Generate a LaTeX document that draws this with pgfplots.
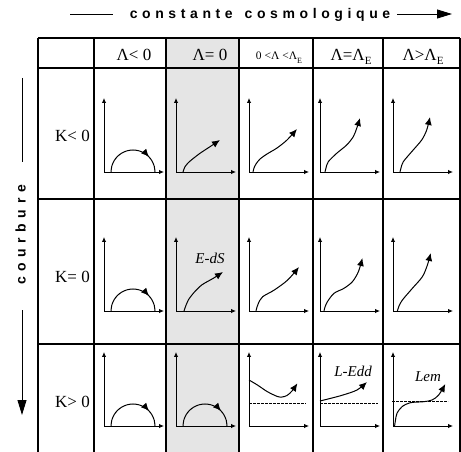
\documentclass[border=0pt]{standalone}
\usepackage{fontspec}
\setmainfont{Liberation Serif}
\newfontfamily\titlefont{Liberation Sans}
\usepackage{pgfplots}
\pgfplotsset{compat=1.18}
\usetikzlibrary{arrows.meta,decorations.markings}
\definecolor{cellgray}{RGB}{229,229,229}
\newcommand\sub[2]{\raisebox{-3.5pt}{\fontsize{#2}{#2}\selectfont #1}}
\newcommand\K{\kern4.6pt}
\newcommand\KK{\kern5.6pt}
\pgfplotsset{
 mini/.style={scale only axis, width=60pt, height=74pt, xmin=0, xmax=60, ymin=0, ymax=74,
   enlargelimits=false, axis x line=bottom, axis y line=left, xtick=\empty, ytick=\empty,
   clip=false, anchor=south west,
   axis line style={line width=0.9pt},
   every outer x axis line/.append style={-{Latex[length=5pt,width=4.5pt]}},
   every outer y axis line/.append style={-{Latex[length=5pt,width=4.5pt]}}},
 curve/.style={black, line width=1pt, smooth, -{Latex[length=8pt,width=7pt]}},
 arc/.style={black, line width=1pt, smooth, postaction={decorate},
   decoration={markings, mark=at position 0.76 with {\arrow{Latex[length=8pt,width=7pt]}}}},
 dash/.style={black, line width=0.7pt, dash pattern=on 2.5pt off 1.5pt}
}
\begin{document}
\begin{tikzpicture}
\useasboundingbox (0pt,0pt) rectangle (461pt,-452pt);
\begin{scope}[x=1pt,y=-1pt]
 \fill[cellgray] (166,38) rectangle (239,452);
 \foreach \yy in {38,68,199,344} {\draw[line width=1.3pt] (38,\yy) -- (460,\yy);}
 \foreach \xx in {38,94,166,239,313,383,460} {\draw[line width=1.3pt] (\xx,38) -- (\xx,452);}
 % titles
 \draw[line width=0.9pt] (70,14) -- (113,14);
 \node[anchor=base, inner sep=0pt, font=\titlefont\bfseries\fontsize{14}{14}\selectfont] at (260,18.5)
   {c\K o\K n\K s\K t\K a\K n\K t\K e\kern12pt c\K o\K s\K m\K o\K l\K o\K g\K i\K q\K u\K e};
 \draw[line width=0.9pt, -{Triangle[length=15pt,width=9pt]}] (397,14) -- (452,14);
 \draw[line width=0.9pt] (22,78) -- (22,162);
 \node[anchor=base, rotate=90, inner sep=0pt, font=\titlefont\bfseries\fontsize{14}{14}\selectfont] at (25.6,235)
   {c\KK o\KK u\KK r\KK b\KK u\KK r\KK e};
 \draw[line width=0.9pt, -{Triangle[length=15pt,width=9pt]}] (22,310) -- (22,415);
 % headers
 \node[anchor=base, inner sep=0pt, font=\fontsize{17}{17}\selectfont] at (134,61) {Λ< 0};
 \node[anchor=base, inner sep=0pt, font=\fontsize{17}{17}\selectfont] at (210,61) {Λ= 0};
 \node[anchor=base, inner sep=0pt, font=\fontsize{11.5}{11.5}\selectfont] at (279,60) {0 <Λ <Λ\sub{E}{8}};
 \node[anchor=base, inner sep=0pt, font=\fontsize{17}{17}\selectfont] at (351,61) {Λ=Λ\sub{E}{11}};
 \node[anchor=base, inner sep=0pt, font=\fontsize{17}{17}\selectfont] at (423,61) {Λ>Λ\sub{E}{11}};
 % row labels
 \node[anchor=base east, inner sep=0pt, font=\fontsize{17}{17}\selectfont] at (90,142) {K< 0};
 \node[anchor=base east, inner sep=0pt, font=\fontsize{17}{17}\selectfont] at (90,282) {K= 0};
 \node[anchor=base east, inner sep=0pt, font=\fontsize{17}{17}\selectfont] at (90,407) {K> 0};
 % curve labels
 \node[font=\itshape\fontsize{15}{15}\selectfont, inner sep=0pt] at (210,258) {E-dS};
 \node[font=\itshape\fontsize{15}{15}\selectfont, inner sep=0pt] at (353,371) {L-Edd};
 \node[font=\itshape\fontsize{15}{15}\selectfont, inner sep=0pt] at (428,377) {Lem};
\end{scope}

% ---------- Row 1 : K < 0 ----------
\begin{axis}[mini, at={(104pt,-172pt)}]
\addplot[arc] coordinates {(7,0) (7.75,5.69) (9.95,11) (13.44,15.56) (18,19.05) (23.31,21.25) (29,22) (34.69,21.25) (40,19.05) (44.56,15.56) (48.05,11) (50.25,5.69) (51,0)};
\end{axis}
\begin{axis}[mini, at={(176pt,-172pt)}]
\addplot[curve] coordinates {(7,0) (8,3) (9,5.3) (12,9) (15.7,12.3) (24,18.7) (34,25.3) (44,32)};
\end{axis}
\begin{axis}[mini, at={(249pt,-172pt)}]
\addplot[curve] coordinates {(4,0) (5,4) (7,8) (11,13) (18,18) (28,24) (38,32) (48,43)};
\end{axis}
\begin{axis}[mini, at={(320pt,-172pt)}]
\addplot[curve] coordinates {(5,0) (6,4) (8.3,10.3) (16.7,18.7) (26.7,27) (33.3,35.3) (36.7,43.7) (40,54)};
\end{axis}
\begin{axis}[mini, at={(393pt,-172pt)}]
\addplot[curve] coordinates {(7,0) (8,4) (10.3,10.3) (18.7,20.3) (28.7,32) (33.7,42) (37,55)};
\end{axis}

% ---------- Row 2 : K = 0 ----------
\begin{axis}[mini, at={(104pt,-311pt)}]
\addplot[arc] coordinates {(7,0) (7.75,5.69) (9.95,11) (13.44,15.56) (18,19.05) (23.31,21.25) (29,22) (34.69,21.25) (40,19.05) (44.56,15.56) (48.05,11) (50.25,5.69) (51,0)};
\end{axis}
\begin{axis}[mini, at={(176pt,-311pt)}]
\addplot[curve] coordinates {(8,0) (9,3) (10.5,7) (12.3,11) (17.3,17.7) (25.7,26) (37.3,32.7) (47,39)};
\end{axis}
\begin{axis}[mini, at={(249pt,-311pt)}]
\addplot[curve] coordinates {(7,0) (8,4) (9.5,8) (13.7,14.3) (25.3,21) (38.7,31) (50,44)};
\end{axis}
\begin{axis}[mini, at={(320pt,-311pt)}]
\addplot[curve] coordinates {(4,0) (5,4) (7.4,9.3) (14,17.7) (24,22.7) (32.4,29.3) (38.4,39.3) (42.4,53)};
\end{axis}
\begin{axis}[mini, at={(393pt,-311pt)}]
\addplot[curve] coordinates {(4.4,0) (6,5) (9.4,11) (19.4,22.7) (29.4,34.3) (34.4,46) (37.7,58)};
\end{axis}

% ---------- Row 3 : K > 0 ----------
\begin{axis}[mini, at={(104pt,-426pt)}]
\addplot[arc] coordinates {(7,0) (7.75,5.69) (9.95,11) (13.44,15.56) (18,19.05) (23.31,21.25) (29,22) (34.69,21.25) (40,19.05) (44.56,15.56) (48.05,11) (50.25,5.69) (51,0)};
\end{axis}
\begin{axis}[mini, at={(176pt,-426pt)}]
\addplot[arc] coordinates {(7,0) (7.75,5.69) (9.95,11) (13.44,15.56) (18,19.05) (23.31,21.25) (29,22) (34.69,21.25) (40,19.05) (44.56,15.56) (48.05,11) (50.25,5.69) (51,0)};
\end{axis}
\begin{axis}[mini, at={(249pt,-426pt)}]
\addplot[dash] coordinates {(0,23) (57,23)};
\addplot[curve] coordinates {(0,46) (8.4,41) (18.4,34.3) (28.4,29.5) (33,29) (38,30.5) (43,35) (48.4,42.7)};
\end{axis}
\begin{axis}[mini, at={(320pt,-426pt)}]
\addplot[dash] coordinates {(0,23) (58,23)};
\addplot[curve] coordinates {(0,25) (10,27.5) (23,31) (37,36) (47,44)};
\end{axis}
\begin{axis}[mini, at={(393pt,-426pt)}]
\addplot[dash] coordinates {(-1,24.3) (55,24.3)};
\addplot[curve] coordinates {(1.6,0) (2.5,6) (4,12.7) (9,19.3) (17.3,23.3) (30.7,24.3) (39,26) (45.7,31) (52.3,42)};
\end{axis}
\end{tikzpicture}
\end{document}
